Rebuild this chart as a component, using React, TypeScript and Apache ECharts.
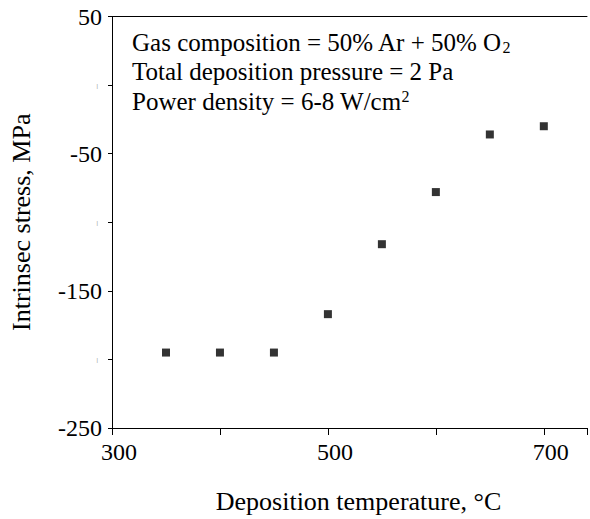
import React, { useEffect, useRef } from "react";
import * as echarts from "echarts";

const temperatures = [350, 400, 450, 500, 550, 600, 650, 700];
const stress = [-195, -195, -195, -167, -116, -78, -36, -30];
const yMarkOnly = [0, -100, -200];
const xLabelValues = [300, 500, 700];
const xTitle = "Deposition temperature, °C";
const yTitle = "Intrinsec stress, MPa";
const noteLines = [
  "Gas composition = 50% Ar + 50% O{sub|2}",
  "Total deposition pressure = 2 Pa",
  "Power density = 6-8 W/cm{sup|2}",
];

const FONT = "Liberation Serif";
const CSS = `.stress-chart svg text, .stress-chart svg tspan { font-family: "Liberation Serif", "Times New Roman", serif !important; }`;

export default function App() {
  const ref = useRef<HTMLDivElement>(null);
  useEffect(() => {
    if (!ref.current) return;
    const chart = echarts.init(ref.current, undefined, { renderer: "svg" });
    const data = temperatures.map((t, i) => [t, stress[i]]);
    chart.setOption({
      animation: false,
      backgroundColor: "#fff",
      textStyle: { fontFamily: FONT },
      grid: { left: 111, right: 0, top: 16.5, bottom: 87, containLabel: false },
      xAxis: [
        {
          type: "value",
          min: 300,
          max: 740,
          interval: 100,
          position: "bottom",
          name: xTitle,
          nameLocation: "middle",
          nameGap: 60,
          nameTextStyle: { fontFamily: FONT, fontSize: 26, color: "#000", padding: [0, 0, 0, 18] },
          axisLine: { show: true, onZero: false, lineStyle: { color: "#000", width: 1 } },
          axisTick: { show: true, inside: false, length: 7, lineStyle: { color: "#000" } },
          axisLabel: {
            fontFamily: FONT,
            fontSize: 24,
            color: "#000",
            margin: 12,
            padding: [0, 0, 0, 14],
            formatter: (v: number) => (xLabelValues.includes(v) ? String(v) : ""),
          },
          splitLine: { show: false },
        },
        {
          type: "value",
          min: 300,
          max: 740,
          position: "top",
          axisLine: { show: true, onZero: false, lineStyle: { color: "#000", width: 1 } },
          axisTick: { show: false },
          axisLabel: { show: false },
          splitLine: { show: false },
        },
      ],
      yAxis: {
        type: "value",
        min: -250,
        max: 50,
        interval: 50,
        name: yTitle,
        nameLocation: "middle",
        nameGap: 78,
        nameRotate: 90,
        nameTextStyle: { fontFamily: FONT, fontSize: 26, color: "#000" },
        axisLine: { show: true, onZero: false, lineStyle: { color: "#000", width: 1 } },
        axisTick: { show: true, inside: false, length: 4, lineStyle: { color: "#000" } },
        axisLabel: {
          fontFamily: FONT,
          fontSize: 24,
          color: "#000",
          margin: 10,
          formatter: (v: number) => (yMarkOnly.includes(v) ? "{m||}" : String(v)),
          rich: {
            m: { fontFamily: FONT, fontSize: 7, color: "#666", padding: [2, 4, 0, 0] },
          },
        },
        splitLine: { show: false },
      },
      graphic: noteLines.map((line, i) => ({
        type: "text",
        left: 132,
        top: 30 + i * 29,
        style: {
          text: line,
          fontFamily: FONT,
          fontSize: 25,
          fill: "#000",
          rich: {
            sub: { fontFamily: FONT, fontSize: 16, fill: "#000", verticalAlign: "bottom", padding: [10, 0, 0, 0] },
            sup: { fontFamily: FONT, fontSize: 16, fill: "#000", verticalAlign: "top", padding: [0, 0, 10, 0] },
          },
        },
      })),
      series: [
        {
          type: "scatter",
          data,
          symbol: "rect",
          symbolSize: 8,
          itemStyle: { color: "#000" },
        },
      ],
    });
    return () => chart.dispose();
  }, []);
  return (
    <>
      <style>{CSS}</style>
      <div
        ref={ref}
        className="stress-chart"
        style={{ position: "fixed", left: 0, top: 0, width: 590, height: 519, background: "#fff" }}
      />
    </>
  );
}
